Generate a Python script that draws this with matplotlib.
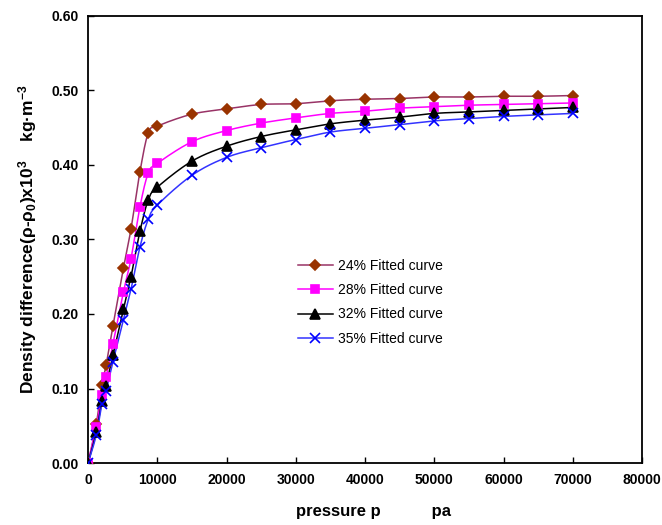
import numpy as np
from matplotlib import pyplot as plt

plt.rcParams['font.family'] = ['Liberation Sans', 'DejaVu Sans']
plt.rcParams['mathtext.default'] = 'regular'

# pressure (pa) and density difference for each concentration
pressure = [0, 1200, 2000, 2600, 3600, 5100, 6200, 7500, 8700, 10000,
            15000, 20000, 25000, 30000, 35000, 40000, 45000, 50000,
            55000, 60000, 65000, 70000]
d24 = [0, 0.053, 0.105, 0.131, 0.184, 0.261, 0.314, 0.391, 0.443, 0.452,
       0.468, 0.475, 0.481, 0.482, 0.486, 0.488, 0.489, 0.491, 0.491, 0.492, 0.492, 0.493]
d28 = [0, 0.048, 0.091, 0.115, 0.160, 0.229, 0.274, 0.344, 0.389, 0.402,
       0.431, 0.446, 0.456, 0.463, 0.469, 0.472, 0.476, 0.478, 0.480, 0.481, 0.482, 0.483]
d32 = [0, 0.042, 0.083, 0.104, 0.145, 0.206, 0.250, 0.311, 0.353, 0.370,
       0.405, 0.425, 0.438, 0.447, 0.455, 0.460, 0.464, 0.469, 0.471, 0.473, 0.475, 0.477]
d35 = [0, 0.038, 0.079, 0.097, 0.136, 0.192, 0.233, 0.290, 0.327, 0.346,
       0.386, 0.410, 0.423, 0.434, 0.444, 0.449, 0.454, 0.459, 0.462, 0.465, 0.467, 0.469]
labels = ['24% Fitted curve', '28% Fitted curve', '32% Fitted curve', '35% Fitted curve']

xmax, ymax = 80000, 0.6


def smooth(x, y, n=20):
    # excel-style smoothed line (bezier with 1/6 tangents), done in screen-like units
    p = np.column_stack([np.asarray(x) / xmax * 554, np.asarray(y) / ymax * 447])
    ext = np.vstack([p[0], p, p[-1]])
    t = np.linspace(0, 1, n)[:, None]
    out = []
    for i in range(len(p) - 1):
        p0, p1, p2, p3 = ext[i], ext[i + 1], ext[i + 2], ext[i + 3]
        c1 = p1 + (p2 - p0) / 6
        c2 = p2 - (p3 - p1) / 6
        seg = ((1 - t) ** 3) * p1 + 3 * ((1 - t) ** 2) * t * c1 + 3 * (1 - t) * t ** 2 * c2 + t ** 3 * p2
        out.append(seg)
    out = np.vstack(out)
    return out[:, 0] / 554 * xmax, out[:, 1] / 447 * ymax


fig = plt.figure(figsize=(6.62, 5.25), dpi=100)
ax = fig.add_axes([0.133, 0.118, 0.837, 0.852])

styles = [
    ('#993366', '#993300', 'D', 5.2),
    ('#ff00ff', '#ff00ff', 's', 5.2),
    ('#000000', '#000000', '^', 6.5),
    ('#3333ff', '#0000ff', 'x', 6.5),
]
for d, lab, (lc, mc, mk, ms) in zip([d24, d28, d32, d35], labels, styles):
    sx, sy = smooth(pressure, d)
    ax.plot(sx, sy, color=lc, lw=1.1, zorder=2)
    ax.plot(pressure, d, ls='none', marker=mk, ms=ms, mfc=mc, mec=mc, mew=1.2, zorder=3)
    ax.plot([], [], color=lc, lw=1.1, marker=mk, ms=ms, mfc=mc, mec=mc, mew=1.2, label=lab)

ax.set_xlim(0, xmax)
ax.set_ylim(0, ymax)
ax.set_xticks(np.arange(0, 80001, 10000))
ax.set_yticks(np.arange(0, 0.61, 0.1))
ax.set_yticklabels([f'{v:.2f}' for v in np.arange(0, 0.61, 0.1)])
ax.tick_params(direction='in', length=4, width=1, labelsize=10, pad=7)
for lbl in ax.get_xticklabels() + ax.get_yticklabels():
    lbl.set_fontweight('bold')
for s in ax.spines.values():
    s.set_linewidth(1.3)

ax.set_xlabel('pressure p' + ' ' * 11 + 'pa', fontsize=12, fontweight='bold')
ax.xaxis.set_label_coords(0.516, -0.092)
ax.set_ylabel(r'Density difference($\rho$-$\rho_{0}$)x10$^{3}$    kg·m$^{-3}$',
              fontsize=12.5, fontweight='bold')
ax.yaxis.set_label_coords(-0.088, 0.5)

ax.legend(loc='upper left', bbox_to_anchor=(0.379, 0.457), frameon=False,
          fontsize=10, handlelength=2.5, handletextpad=0.4, labelspacing=0.75,
          borderpad=0, borderaxespad=0)

fig.savefig('out.png', dpi=100)
